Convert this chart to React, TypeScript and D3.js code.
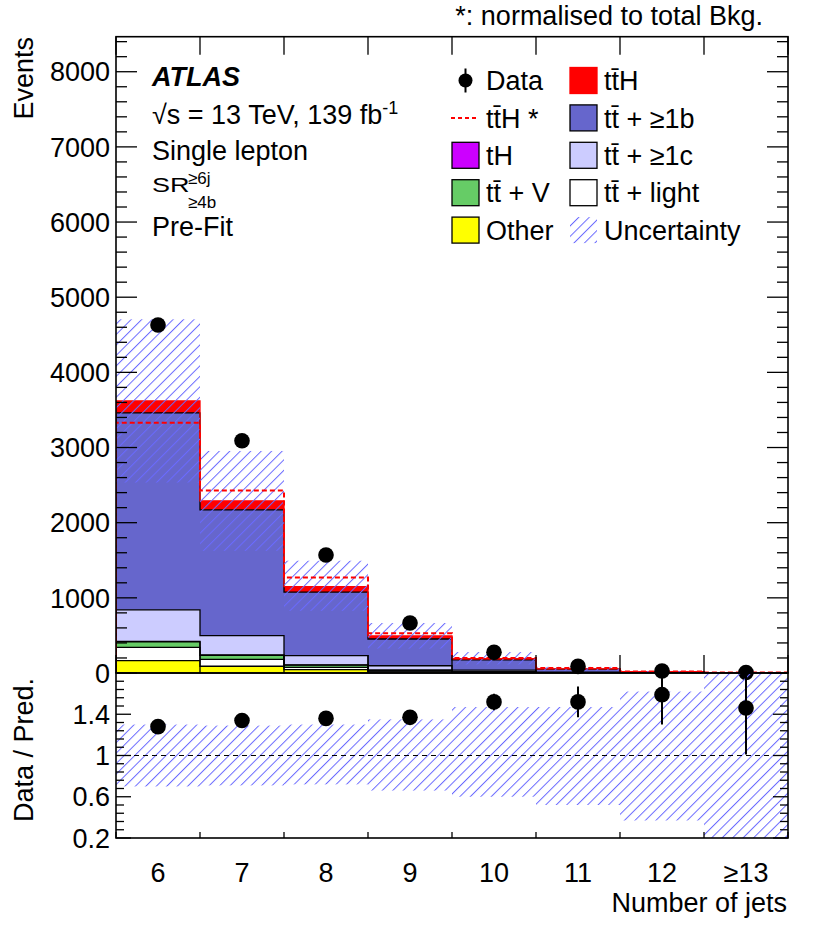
import React from "react";
import * as d3 from "d3";

// ---------- data ----------
const bins = ["6", "7", "8", "9", "10", "11", "12", "≥13"];
const other = [165, 90, 45, 14, 5, 1.5, 0.5, 0.2];
const ttLight = [175, 92, 30, 12, 5, 1.5, 0.5, 0.1];
const ttV = [73, 53, 30, 12, 5, 1.5, 0.4, 0.1];
const tH = [7, 5, 3, 1.5, 0.6, 0.2, 0.1, 0.05];
const ttC = [420, 257, 122, 57, 22, 6, 1.5, 0.4];
const ttB = [2620, 1673, 845, 356, 138, 40, 12, 3.6];
const ttH = [160, 120, 74, 40, 14, 5, 1.8, 0.6];
const ttHNorm = [3330, 2427, 1270, 528, 200, 65, 20, 6];
const dataVals = [4630, 3090, 1570, 665, 275, 88, 27, 7];
const dataErr = [68, 56, 40, 26, 17, 9, 5, 3];
const ratioVals = [1.28, 1.34, 1.36, 1.37, 1.52, 1.52, 1.59, 1.46];
const ratioErr = [0.02, 0.03, 0.04, 0.05, 0.08, 0.15, 0.29, 0.45];
const uncUp = [1.3, 1.29, 1.3, 1.35, 1.47, 1.47, 1.62, 2.0];
const uncDown = [0.7, 0.71, 0.72, 0.66, 0.6, 0.52, 0.37, 0.0];
const mainYTicks = [0, 1000, 2000, 3000, 4000, 5000, 6000, 7000, 8000];
const ratioTicks = [0.2, 0.6, 1, 1.4];
const ratioTickLabels = ["0.2", "0.6", "1", "1.4"];

const layerKeys = ["other", "ttLight", "ttV", "tH", "ttC", "ttB", "ttH"];
const layerSeries: Record<string, number[]> = { other, ttLight, ttV, tH, ttC, ttB, ttH };
const layerFill: Record<string, string> = {
  other: "#ffff00",
  ttLight: "#ffffff",
  ttV: "#66cc66",
  tH: "#cc00ff",
  ttC: "#ccccff",
  ttB: "#6666cc",
  ttH: "#ff0000",
};
const layerLine: Record<string, string> = {
  other: "#000",
  ttLight: "#000",
  ttV: "#000",
  tH: "#000",
  ttC: "#000",
  ttB: "#000",
  ttH: "#ff0000",
};

const W = 830, H = 936;
const L = 116, R = 788, T = 36.7, MB = 673, RB = 838;
const FONT = "'Liberation Sans', Arial, Helvetica, sans-serif";
const FS = 27;
const HATCH = "#6a6aff";

export default function App() {
  const x = d3.scaleBand<string>().domain(bins).range([L, R]).padding(0);
  const bw = x.bandwidth();
  const y = d3.scaleLinear().domain([0, 8466]).range([MB, T]);
  const yr = d3.scaleLinear().domain([0.2, 1.8]).range([RB, MB]);

  const rows = bins.map((b, i) => {
    const r: any = { bin: b };
    layerKeys.forEach((k) => (r[k] = layerSeries[k][i]));
    return r;
  });
  const stack = d3.stack<any>().keys(layerKeys)(rows);
  const totals = bins.map((_, i) => layerKeys.reduce((s, k) => s + layerSeries[k][i], 0));

  const line = d3.line<[number, number]>();
  const stepPts = (vals: number[], sc: (v: number) => number): [number, number][] => {
    const pts: [number, number][] = [[L, sc(0)]];
    vals.forEach((v, i) => {
      const x0 = x(bins[i])!;
      pts.push([x0, sc(v)], [x0 + bw, sc(v)]);
    });
    pts.push([R, sc(0)]);
    return pts;
  };

  const minorMain = d3.range(0, 8466, 200);
  const minorRatio = d3.range(0.2, 1.8001, 0.08);
  const edges = d3.range(bins.length + 1).map((i) => L + i * bw);

  const legRowY = (i: number) => 80.5 + i * 37.4;
  const lx1 = 452, lx2 = 570, bs = 27;

  const tbar = "t\u0304";

  return (
    <svg
      width={W}
      height={H}
      style={{ position: "absolute", left: 0, top: 0, background: "#fff" }}
      fontFamily={FONT}
    >
      <defs>
        <pattern id="hatch" width={7.4} height={7.4} patternUnits="userSpaceOnUse" patternTransform="rotate(45)">
          <line x1={0.5} y1={0} x2={0.5} y2={7.4} stroke={HATCH} strokeWidth={1} />
        </pattern>
        <clipPath id="clipMain">
          <rect x={L} y={T} width={R - L} height={MB - T} />
        </clipPath>
        <clipPath id="clipRatio">
          <rect x={L} y={MB} width={R - L} height={RB - MB} />
        </clipPath>
      </defs>
      <rect x={0} y={0} width={W} height={H} fill="#fff" />

      {/* main panel */}
      <g clipPath="url(#clipMain)">
        {stack.map((layer) => (
          <g key={layer.key}>
            {layer.map((d, i) => (
              <rect
                key={i}
                x={x(bins[i])}
                y={y(d[1])}
                width={bw}
                height={Math.max(0, y(d[0]) - y(d[1]))}
                fill={layerFill[layer.key]}
              />
            ))}
          </g>
        ))}
        {stack.map((layer) => (
          <path
            key={"o" + layer.key}
            d={line(stepPts(layer.map((d) => d[1]), y))!}
            fill="none"
            stroke={layerLine[layer.key]}
            strokeWidth={1.3}
          />
        ))}
        {totals.map((t, i) => (
          <rect
            key={"u" + i}
            x={x(bins[i])}
            y={y(t * uncUp[i])}
            width={bw}
            height={y(t * uncDown[i]) - y(t * uncUp[i])}
            fill="url(#hatch)"
          />
        ))}
        <path
          d={line(stepPts(ttHNorm, y))!}
          fill="none"
          stroke="#ff0000"
          strokeWidth={2}
          strokeDasharray="5,3"
        />
      </g>
      {dataVals.map((v, i) => {
        const cx = x(bins[i])! + bw / 2;
        return (
          <g key={"d" + i}>
            <line x1={cx} x2={cx} y1={y(v + dataErr[i])} y2={Math.min(MB, y(v - dataErr[i]))} stroke="#000" strokeWidth={2} />
            <circle cx={cx} cy={y(v)} r={7.8} fill="#000" />
          </g>
        );
      })}

      {/* ratio panel */}
      <g clipPath="url(#clipRatio)">
        {bins.map((b, i) => (
          <rect
            key={"ru" + i}
            x={x(b)}
            y={yr(uncUp[i])}
            width={bw}
            height={yr(uncDown[i]) - yr(uncUp[i])}
            fill="url(#hatch)"
          />
        ))}
        <line x1={L} x2={R} y1={yr(1)} y2={yr(1)} stroke="#000" strokeWidth={1} strokeDasharray="5,4" />
        {ratioVals.map((v, i) => {
          const cx = x(bins[i])! + bw / 2;
          return (
            <line key={"re" + i} x1={cx} x2={cx} y1={yr(v + ratioErr[i])} y2={yr(v - ratioErr[i])} stroke="#000" strokeWidth={2} />
          );
        })}
      </g>
      {ratioVals.map((v, i) => {
        const cx = x(bins[i])! + bw / 2;
        return <circle key={"rd" + i} cx={cx} cy={yr(v)} r={7.8} fill="#000" />;
      })}

      {/* frames */}
      <rect x={L} y={T} width={R - L} height={MB - T} fill="none" stroke="#000" strokeWidth={1.6} />
      <rect x={L} y={MB} width={R - L} height={RB - MB} fill="none" stroke="#000" strokeWidth={1.6} />

      {/* main y ticks */}
      {minorMain.map((v) => {
        const major = v % 1000 === 0;
        const len = major ? 21 : 11;
        return (
          <g key={"mt" + v} stroke="#000" strokeWidth={1.3}>
            <line x1={L} x2={L + len} y1={y(v)} y2={y(v)} />
            <line x1={R} x2={R - len} y1={y(v)} y2={y(v)} />
          </g>
        );
      })}
      {mainYTicks.map((v) => (
        <text key={"ml" + v} x={110} y={y(v)} dy="0.36em" textAnchor="end" fontSize={FS}>
          {String(v)}
        </text>
      ))}
      {/* ratio y ticks */}
      {minorRatio.map((v, j) => {
        const major = j % 5 === 0;
        const len = major ? 15 : 8;
        return (
          <g key={"rt" + j} stroke="#000" strokeWidth={1.3}>
            <line x1={L} x2={L + len} y1={yr(v)} y2={yr(v)} />
            <line x1={R} x2={R - len} y1={yr(v)} y2={yr(v)} />
          </g>
        );
      })}
      {ratioTicks.map((v, i) => (
        <text key={"rl" + v} x={110} y={yr(v)} dy="0.36em" textAnchor="end" fontSize={FS}>
          {ratioTickLabels[i]}
        </text>
      ))}
      {/* x ticks */}
      {edges.map((e, i) => (
        <g key={"xt" + i} stroke="#000" strokeWidth={1.3}>
          <line x1={e} x2={e} y1={MB} y2={MB - 18} />
          <line x1={e} x2={e} y1={T} y2={T + 18} />
          <line x1={e} x2={e} y1={RB} y2={RB - 6} />
        </g>
      ))}
      {bins.map((b) => (
        <text key={"xl" + b} x={x(b)! + bw / 2} y={882} textAnchor="middle" fontSize={FS}>
          {b}
        </text>
      ))}

      {/* axis titles */}
      <text x={787} y={912} textAnchor="end" fontSize={FS}>Number of jets</text>
      <text transform="translate(33,37) rotate(-90)" textAnchor="end" fontSize={FS}>Events</text>
      <text transform="translate(33,750) rotate(-90)" textAnchor="middle" fontSize={FS}>Data / Pred.</text>
      <text x={763} y={25} textAnchor="end" fontSize={FS}>*: normalised to total Bkg.</text>

      {/* ATLAS label block */}
      <text x={152} y={86} fontSize={FS} fontWeight="bold" fontStyle="italic">ATLAS</text>
      <text x={152} y={124} fontSize={FS}>
        √s = 13 TeV, 139 fb<tspan fontSize={18} dy={-10}>-1</tspan>
      </text>
      <text x={152} y={160} fontSize={FS}>Single lepton</text>
      <text transform="translate(152,192) scale(1,0.78)" fontSize={FS}>SR</text>
      <text x={188} y={184} fontSize={17}>≥6j</text>
      <text x={188} y={208} fontSize={17}>≥4b</text>
      <text x={152} y={236} fontSize={FS}>Pre-Fit</text>

      {/* legend left column */}
      <g>
        <line x1={lx1 + bs / 2} x2={lx1 + bs / 2} y1={legRowY(0) - 12} y2={legRowY(0) + 12} stroke="#000" strokeWidth={2} />
        <circle cx={lx1 + bs / 2} cy={legRowY(0)} r={7} fill="#000" />
        <text x={486} y={legRowY(0)} dy="0.36em" fontSize={FS}>Data</text>

        <line x1={lx1 - 1} x2={lx1 + bs} y1={legRowY(1)} y2={legRowY(1)} stroke="#ff0000" strokeWidth={2} strokeDasharray="4,3" />
        <text x={486} y={legRowY(1)} dy="0.36em" fontSize={FS}>{"t" + tbar + "H *"}</text>

        {[
          ["tH", "tH"],
          ["ttV", "t" + tbar + " + V"],
          ["other", "Other"],
        ].map(([k, lab], j) => (
          <g key={"ll" + k}>
            <rect x={lx1} y={legRowY(j + 2) - 13} width={bs} height={26} fill={layerFill[k]} stroke="#000" strokeWidth={1.3} />
            <text x={486} y={legRowY(j + 2)} dy="0.36em" fontSize={FS}>{lab}</text>
          </g>
        ))}
      </g>
      {/* legend right column */}
      <g>
        {[
          ["ttH", "t" + tbar + "H"],
          ["ttB", "t" + tbar + " + ≥1b"],
          ["ttC", "t" + tbar + " + ≥1c"],
          ["ttLight", "t" + tbar + " + light"],
        ].map(([k, lab], j) => (
          <g key={"lr" + k}>
            <rect x={lx2} y={legRowY(j) - 13} width={bs} height={26} fill={layerFill[k]} stroke={layerLine[k]} strokeWidth={1.3} />
            <text x={604} y={legRowY(j)} dy="0.36em" fontSize={FS}>{lab}</text>
          </g>
        ))}
        <rect x={lx2} y={legRowY(4) - 13} width={bs} height={26} fill="url(#hatch)" />
        <text x={604} y={legRowY(4)} dy="0.36em" fontSize={FS}>Uncertainty</text>
      </g>
    </svg>
  );
}
